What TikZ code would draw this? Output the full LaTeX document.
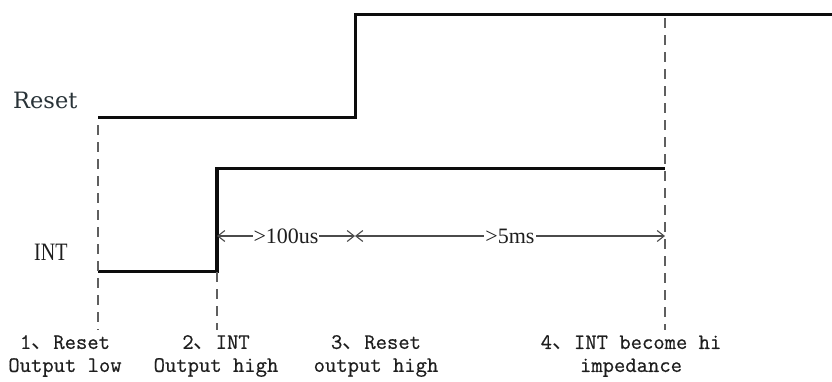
\documentclass[tikz,border=0pt]{standalone}
\usepackage{fontspec}
\setmainfont{Liberation Serif}
\newfontfamily\resetfont{DejaVu Serif}
\newfontfamily\intfont[FakeStretch=0.8]{Liberation Serif}
\newfontfamily\eventfont[FakeBold=0.6]{Latin Modern Mono}
\newfontfamily\cjkfont{Noto Sans CJK SC}
\usetikzlibrary{arrows.meta}
\definecolor{signal}{RGB}{12, 12, 12}
\definecolor{guide}{RGB}{95, 95, 95}
\definecolor{dimline}{RGB}{75, 75, 75}
\definecolor{labelgray}{RGB}{30, 30, 30}
\definecolor{resetgray}{RGB}{40, 50, 55}
\newcommand{\dun}{{\cjkfont 、}}

\begin{document}
\begin{tikzpicture}[x=1pt, y=-1pt,
    wave/.style={draw=signal, line width=3pt, line join=miter},
    guideline/.style={draw=guide, line width=1.3pt, dash pattern=on 10pt off 7pt},
    span/.style={draw=dimline, line width=1.1pt,
        {Straight Barb[length=7pt, width=11pt]}-{Straight Barb[length=7pt, width=11pt]}},
    spanlabel/.style={fill=white, text=labelgray, inner sep=1pt, font=\fontsize{22}{22}\selectfont},
    signame/.style={anchor=base west, text=labelgray, inner sep=0pt},
    event/.style={align=center, text=labelgray, inner sep=0pt, font=\eventfont\fontsize{22}{23}\selectfont}]
    \useasboundingbox (0,0) rectangle (832,381);
            % signal names
            \node[signame, text=resetgray, font=\resetfont\fontsize{22.5}{22.5}\selectfont] (reset) at ( 13,108) {Reset};
            \node[signame, font=\intfont\fontsize{25}{25}\selectfont]                       (int)   at ( 34,260) {INT};
            % waveforms
            \draw[wave] ( 98,117) -- (355,117) -- (355, 14) -- (832, 14);
            \draw[wave] ( 98,271) -- (217,271) -- (217,168) -- (665,168);
            \draw[wave, line width=4pt] (217,272) -- (217,167);
            % event instants
            \coordinate (e1top) at ( 98,125);  \coordinate (e1bot) at ( 98,330);
            \coordinate (e2top) at (217,272);  \coordinate (e2bot) at (217,330);
            \coordinate (e4top) at (665, 18);  \coordinate (e4bot) at (665,330);
            \draw[guideline] (e1top) -- (e1bot);
            \draw[guideline] (e2top) -- (e2bot);
            \draw[guideline] (e4top) -- (e4bot);
            % timing spans
            \coordinate (s1) at (217,236);
            \coordinate (s2) at (355,236);
            \coordinate (s3) at (665,236);
            \draw[span] (s1) -- (s2) node[spanlabel, midway] (d1) {>100us};
            \draw[span] (s2) -- (s3) node[spanlabel, midway] (d2) {>5ms};
            % event descriptions
            \node[event] (ev1) at ( 65,356) {1\dun Reset\\Output low};
            \node[event] (ev2) at (216,356) {2\dun INT\\Output high};
            \node[event] (ev3) at (376,356) {3\dun Reset\\output high};
            \node[event] (ev4) at (631,356) {4\dun INT become hi\\impedance};
\end{tikzpicture}
\end{document}
